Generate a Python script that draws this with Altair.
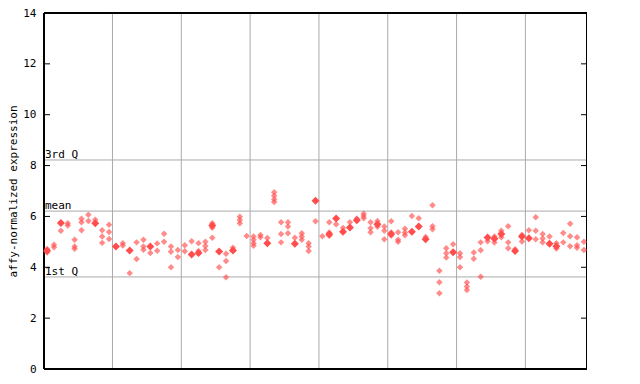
import altair as alt
import pandas as pd

# hollow (lighter) samples per column, 79 columns
hollow = [
    [4.72, 4.58], [4.89, 4.79], [5.44], [5.73, 5.64], [5.08, 4.82, 4.73],
    [5.91, 5.77, 5.46], [6.07, 5.82], [5.87], [5.46, 5.21, 4.96], [5.67, 5.39, 5.11],
    [], [4.95, 4.86], [3.77], [4.98, 4.33], [5.08, 4.82, 4.69],
    [4.56], [4.94, 4.65], [5.32, 5.0], [4.82, 4.61, 4.0], [4.68, 4.40],
    [4.87, 4.63], [5.02], [4.95, 4.64], [5.0, 4.84, 4.68], [5.73, 5.55, 5.16],
    [4.0], [4.53, 4.25, 3.61], [4.77, 4.68], [5.99, 5.86, 5.73], [5.23],
    [5.21, 5.08, 4.95, 4.85], [5.27, 5.18], [5.15], [6.95, 6.81, 6.68, 6.57], [5.77, 5.31, 4.98],
    [5.77, 5.60, 5.34], [5.16], [5.34, 5.21, 5.08], [4.95, 4.82, 4.64], [5.81],
    [5.22], [5.77, 5.37, 5.24], [5.69], [5.55], [5.77],
    [5.92], [6.11, 6.02, 5.93], [5.77, 5.54, 5.38], [5.82, 5.59], [5.60, 5.44, 5.10],
    [5.81, 5.37, 5.25], [5.38, 5.08, 5.0], [5.52, 5.37, 5.26], [6.02], [5.93],
    [5.19], [6.44, 5.61, 5.50], [3.86, 3.41, 2.98], [4.75, 4.55, 4.38], [4.91],
    [4.55, 4.40, 4.0], [3.40, 3.24, 3.11], [4.58, 4.34], [4.98, 4.67, 3.63], [5.02],
    [5.21, 4.97], [5.44, 5.18], [5.61, 4.98, 4.75], [4.71], [5.27, 5.01],
    [5.46], [5.97, 5.44, 5.10], [5.31, 5.13, 4.98], [5.21], [4.95, 4.74],
    [5.35, 4.98], [5.71, 5.22, 4.83], [5.18, 4.87, 4.77], [5.0, 4.68],
]

# solid (highlighted) sample per column, None where absent
filled = [
    4.65, None, 5.74, None, None, None, None, 5.73, None, None,
    4.82, None, 4.66, None, None, 4.82, None, None, None, None,
    None, 4.50, 4.56, None, 5.64, 4.62, None, 4.66, None, None,
    None, None, 4.95, None, None, None, 4.93, None, None, 6.62,
    None, 5.30, 5.92, 5.40, 5.56, 5.85, None, None, 5.69, None,
    5.31, None, None, 5.40, 5.60, 5.10, None, None, None, 4.59,
    None, None, None, None, 5.17, 5.12, 5.31, None, 4.64, 5.21,
    5.14, None, None, 4.93, 4.83, None, None, None, None,
]

stat_names = ["3rd Q", "mean", "1st Q"]
stat_values = [8.22, 6.21, 3.62]
group_bounds = [9.5, 19.5, 29.5, 39.5, 49.5, 59.5, 69.5]
y_ticks = [0, 2, 4, 6, 8, 10, 12, 14]
inner_ticks = [2, 4, 6, 8, 10, 12]

RED = "#ff4d4d"
GRID = "#aaaaaa"
FONT = "DejaVu Sans Mono"
W, H = 543, 356
XDOM = [-0.45, 78.45]

hollow_df = pd.DataFrame(
    [{"i": i, "v": v} for i, vals in enumerate(hollow) for v in vals]
)
filled_df = pd.DataFrame(
    [{"i": i, "v": v} for i, v in enumerate(filled) if v is not None]
)
stats_df = pd.DataFrame({"name": stat_names, "v": stat_values, "x0": XDOM[0]})
bounds_df = pd.DataFrame({"b": group_bounds})
ticks_df = pd.DataFrame({"t": inner_ticks})

xs = alt.Scale(domain=XDOM, nice=False, zero=False)
ys = alt.Scale(domain=[0, 14], nice=False, zero=True)

yaxis = alt.Axis(
    values=y_ticks, tickSize=0, labelPadding=8, labelFont=FONT, labelFontSize=11,
    labelColor="black", domain=False, grid=False,
    title="affy-normalized expression", titleFont=FONT, titleFontSize=11,
    titleFontWeight="normal", titleAngle=-90, titleAlign="center",
    titleBaseline="middle", titleX=-31, titleY=178, titleColor="black",
)

vgrid = alt.Chart(bounds_df).mark_rule(color=GRID, strokeWidth=1).encode(
    x=alt.X("b:Q", scale=xs, axis=None)
)
hgrid = alt.Chart(stats_df).mark_rule(color=GRID, strokeWidth=1).encode(
    y=alt.Y("v:Q", scale=ys, axis=yaxis)
)
labels = alt.Chart(stats_df).mark_text(
    align="left", baseline="bottom", font=FONT, fontSize=11, color="black", dx=1
).encode(
    x=alt.X("x0:Q", scale=xs, axis=None),
    y=alt.Y("v:Q", scale=ys),
    text="name:N",
)
lticks = alt.Chart(ticks_df).mark_rule(color="black").encode(
    x=alt.value(0), x2=alt.value(6), y=alt.Y("t:Q", scale=ys)
)
rticks = alt.Chart(ticks_df).mark_rule(color="black").encode(
    x=alt.value(W - 6), x2=alt.value(W), y=alt.Y("t:Q", scale=ys)
)
frame_l = alt.Chart(ticks_df).mark_rule(color="black", strokeWidth=1.5).encode(
    x=alt.value(0), y=alt.value(0), y2=alt.value(H)
)
frame_r = alt.Chart(ticks_df).mark_rule(color="black", strokeWidth=1.5).encode(
    x=alt.value(W), y=alt.value(0), y2=alt.value(H)
)
frame_t = alt.Chart(ticks_df).mark_rule(color="black", strokeWidth=1.5).encode(
    y=alt.value(0), x=alt.value(0), x2=alt.value(W)
)
frame_b = alt.Chart(ticks_df).mark_rule(color="black", strokeWidth=1.5).encode(
    y=alt.value(H), x=alt.value(0), x2=alt.value(W)
)
pts_h = alt.Chart(hollow_df).mark_point(
    shape="diamond", filled=True, size=42, color=RED, opacity=0.65
).encode(x=alt.X("i:Q", scale=xs, axis=None), y=alt.Y("v:Q", scale=ys))
pts_f = alt.Chart(filled_df).mark_point(
    shape="diamond", filled=True, size=64, color=RED, opacity=1
).encode(x=alt.X("i:Q", scale=xs, axis=None), y=alt.Y("v:Q", scale=ys))

chart = (
    alt.layer(vgrid, hgrid, labels, lticks, rticks,
              frame_l, frame_r, frame_t, frame_b, pts_h, pts_f)
    .properties(
        width=W, height=H, autosize="none",
        padding={"left": 36, "top": 5, "right": 0, "bottom": 10},
    )
    .configure_view(stroke=None)
    .configure(background="white")
)

chart.save("out.html", embed_options={"renderer": "svg", "actions": False})
